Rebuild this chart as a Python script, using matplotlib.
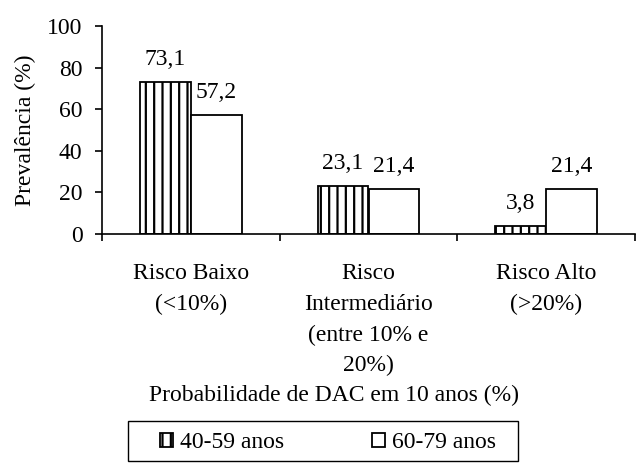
import numpy as np
import matplotlib
matplotlib.use("Agg")
import matplotlib.pyplot as plt
from matplotlib.patches import Rectangle

plt.rcParams["font.family"] = ["Liberation Serif", "DejaVu Serif"]
plt.rcParams["font.size"] = 17
plt.rcParams["hatch.linewidth"] = 1.6

categories = ["Risco Baixo\n(<10%)", "Risco\nIntermediário\n(entre 10% e\n20%)", "Risco Alto\n(>20%)"]
grupo_40_59 = [73.1, 23.1, 3.8]
grupo_60_79 = [57.2, 21.4, 21.4]
series_names = ["40-59 anos", "60-79 anos"]

W, H = 636, 463
fig = plt.figure(figsize=(W / 100, H / 100), dpi=100)
ax = fig.add_axes([102 / W, 1 - 234 / H, 533 / W, 208 / H])

x = np.arange(len(categories))
w = 0.287

b1 = ax.bar(x - w / 2, grupo_40_59, w, color="white", edgecolor="black",
            linewidth=1.3, hatch="||", label=series_names[0])
b2 = ax.bar(x + w / 2, grupo_60_79, w, color="white", edgecolor="black",
            linewidth=1.3, label=series_names[1])

for bars, vals in [(b1, grupo_40_59), (b2, grupo_60_79)]:
    for rect, v in zip(bars, vals):
        ax.annotate(f"{v:.1f}".replace(".", ","),
                    (rect.get_x() + rect.get_width() / 2, rect.get_height()),
                    xytext=(0, 16.5), textcoords="offset points",
                    ha="center", va="center")

ax.set_xlim(-0.5, 2.5)
ax.set_ylim(0, 100)
ax.set_yticks(range(0, 101, 20))
ax.set_xticks(np.arange(-0.5, 3, 1))
ax.set_xticklabels([])
ax.set_xticks(x, minor=True)
ax.set_xticklabels(categories, minor=True, linespacing=1.6)
ax.tick_params(axis="x", which="minor", length=0, pad=21)
ax.tick_params(axis="both", which="major", direction="out", length=5, width=1.2)
ax.tick_params(axis="y", pad=9)

for s in ["top", "right"]:
    ax.spines[s].set_visible(False)
for s in ["left", "bottom"]:
    ax.spines[s].set_linewidth(1.2)

ax.set_ylabel("Prevalência (%)", labelpad=8)
ax.set_xlabel("Probabilidade de DAC em 10 anos (%)")
ax.xaxis.set_label_coords(0.435, -0.727)

# legend box drawn separately so its padding can match the reference
fig.patches.append(Rectangle((128 / W, 1 - 461 / H), 390 / W, 40 / H,
                             transform=fig.transFigure, facecolor="white",
                             edgecolor="black", linewidth=1.0))
fig.legend(loc="center left", bbox_to_anchor=(160 / W, 1 - 443 / H),
           ncol=2, frameon=False, handlelength=0.55, handleheight=0.55,
           handletextpad=0.3, columnspacing=3.7, borderaxespad=0, borderpad=0)

fig.savefig("out.png", dpi=100)
